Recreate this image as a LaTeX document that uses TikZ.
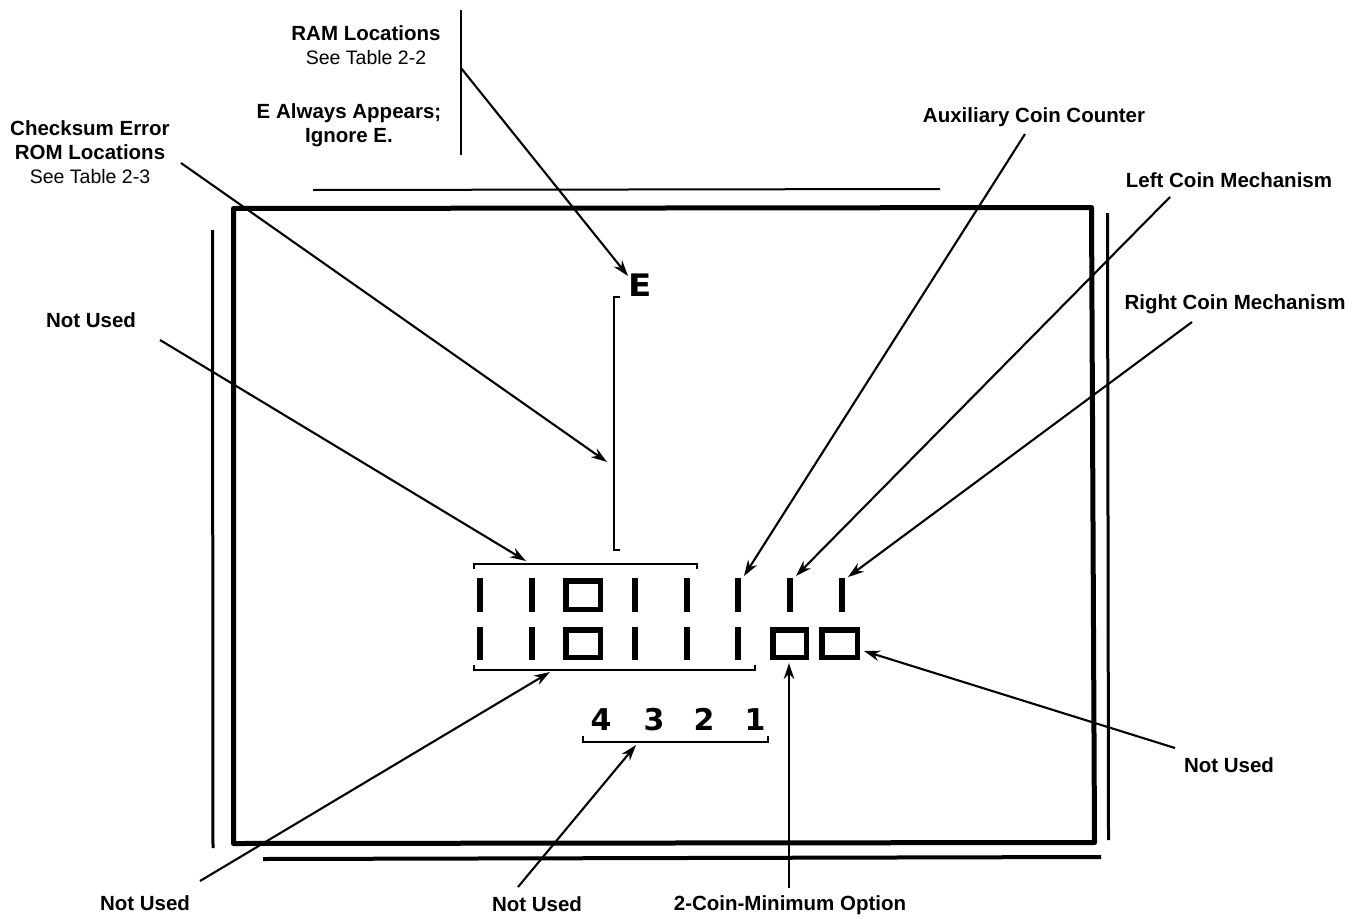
\documentclass[tikz,border=0pt]{standalone}
\usepackage{fontspec}
\setmainfont{Liberation Sans}
\newfontfamily\segfont{DejaVu Sans}
\usetikzlibrary{arrows.meta}
\tikzset{
  lbl/.style={font=\bfseries\fontsize{20.5}{24}\selectfont, inner sep=0pt, align=center},
  arr/.style={-{Stealth[length=16pt,width=10.5pt]}, line width=2.1pt},
  seg/.style={line width=5.5pt, line cap=butt},
  brk/.style={line width=2.2pt},
  frm/.style={line width=5pt, line join=round},
  digit/.style={font=\segfont\bfseries\fontsize{30}{30}\selectfont, inner sep=0pt, anchor=base},
}
\begin{document}
\begin{tikzpicture}[x=1pt,y=-1pt]
\useasboundingbox (0,0) rectangle (1364,918);
% frame
\draw[frm] (233.5,208.5) -- (1091.5,207.5) -- (1094.5,842.5) -- (233.5,843.5) -- cycle;
\draw[line width=2pt] (313,190) -- (940,189);
\draw[line width=3pt] (212.5,230) -- (213,848);
\draw[line width=3pt] (1107.5,213) -- (1108.5,840);
\draw[line width=4pt] (263,859) -- (1101,857);
% vertical line near top labels
\draw[line width=2pt] (461,10) -- (461,155);
% labels
\node[lbl] (ram) at (366,45) {RAM Locations\\{\mdseries\fontsize{19.5}{24}\selectfont See Table 2-2}};
\node[lbl] (ealw) at (349,125) {E Always Appears;\\Ignore E.};
\node[lbl] (chk) at (90,152) {Checksum Error\\ROM Locations\\{\mdseries\fontsize{19.5}{24}\selectfont See Table 2-3}};
\node[lbl] (nu1) at (91,320) {Not Used};
\node[lbl] (aux) at (1034,117) {Auxiliary Coin Counter};
\node[lbl] (lcm) at (1229,180) {Left Coin Mechanism};
\node[lbl] (rcm) at (1235,304) {Right Coin Mechanism};
\node[lbl] (nu2) at (1229,765) {Not Used};
\node[lbl] (two) at (790,905) {2-Coin-Minimum Option};
\node[lbl] (nu3) at (537,904) {Not Used};
\node[lbl] (nu4) at (145,903) {Not Used};
% E and bracket
\node[font=\segfont\bfseries\fontsize{31}{31}\selectfont, inner sep=0pt, anchor=base, xscale=1.1] (e) at (640,296) {E};
\draw[brk] (620,297) -- (614,297) -- (614,550) -- (620,550);
% top-row bars
\foreach \x in {480,532,635,687,738,790,842} \draw[seg] (\x,578) -- (\x,612);
\draw[seg] (565.75,580.75) rectangle (600.25,609.25);
% bottom-row bars
\foreach \x in {480,532,635,687,738} \draw[seg] (\x,627) -- (\x,660);
\draw[seg] (565.75,629.75) rectangle (600.25,657.25);
\draw[seg] (772.75,629.75) rectangle (806.25,657.25);
\draw[seg] (821.75,629.75) rectangle (857.25,657.25);
% brackets
\draw[brk] (474,569) -- (474,564) -- (697,564) -- (697,569);
\draw[brk] (474,665) -- (474,670) -- (755,670) -- (755,665);
\draw[brk] (583,736) -- (583,742) -- (768,742) -- (768,736);
% 4321
\foreach \d/\x in {4/601,3/654,2/704,1/755}
  \node[digit] (d\d) at (\x,730) {\d};
% arrow endpoints
\coordinate (ramS) at (461,68);  \coordinate (ramT) at (628,276);
\coordinate (chkS) at (181,163); \coordinate (chkT) at (607,462);
\coordinate (nu1S) at (160,340); \coordinate (nu1T) at (526,561);
\coordinate (auxS) at (1025,134); \coordinate (auxT) at (744,576);
\coordinate (lcmS) at (1170,197); \coordinate (lcmT) at (796,576);
\coordinate (rcmS) at (1192,322); \coordinate (rcmT) at (848,577);
\coordinate (nu2S) at (1175,748); \coordinate (nu2T) at (864,651);
\coordinate (twoS) at (789,888); \coordinate (twoT) at (789,663);
\coordinate (nu3S) at (518,887); \coordinate (nu3T) at (636,745);
\coordinate (nu4S) at (200,881); \coordinate (nu4T) at (550,672);
\foreach \n in {ram,chk,nu1,aux,lcm,rcm,nu2,two,nu3,nu4}
  \draw[arr] (\n S) -- (\n T);
\end{tikzpicture}
\end{document}
